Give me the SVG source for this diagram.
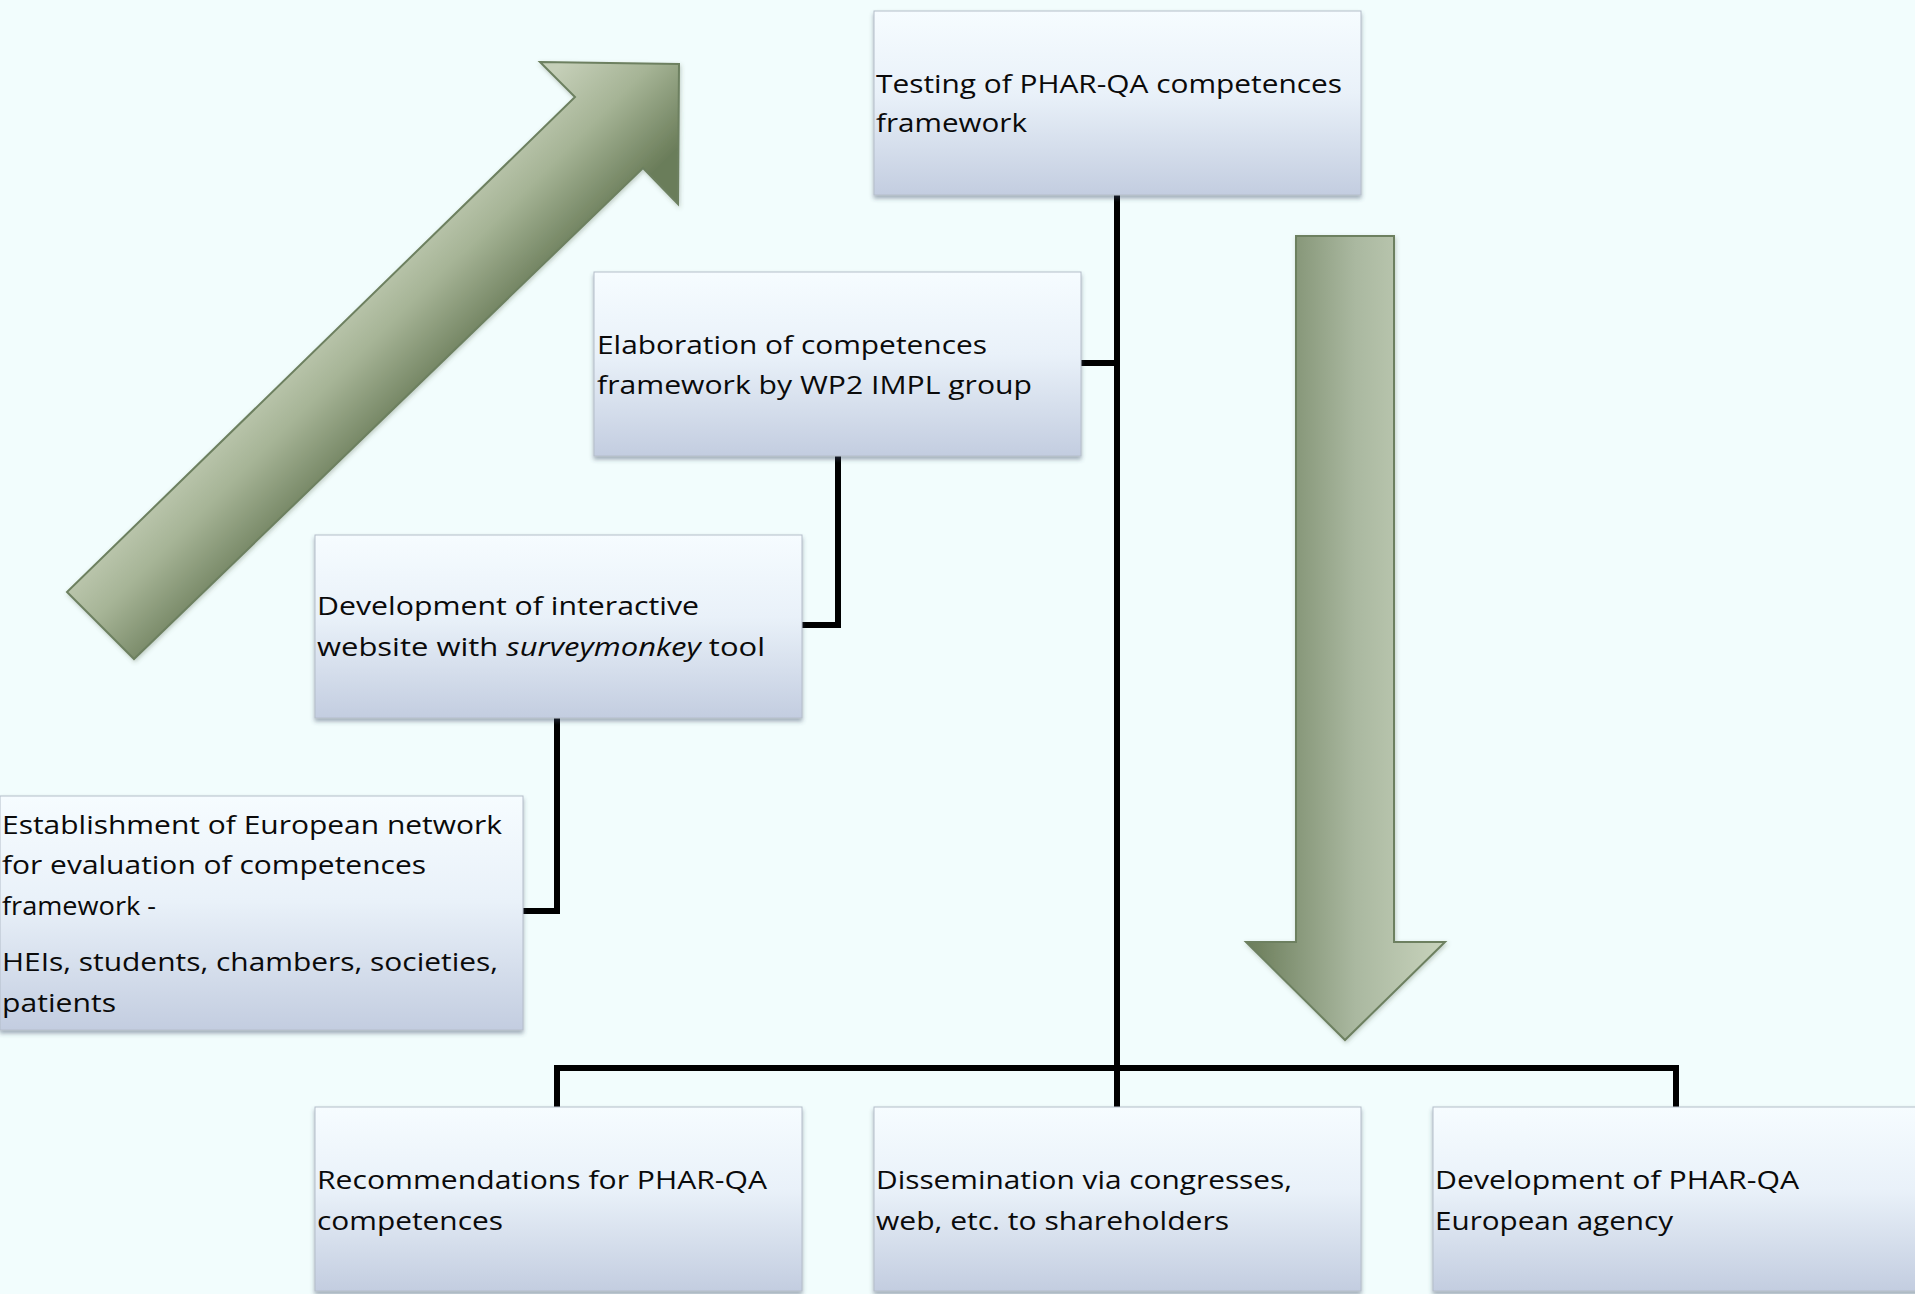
<svg xmlns="http://www.w3.org/2000/svg" width="1915" height="1294" viewBox="0 0 1915 1294">
  <defs>
    <linearGradient id="boxFill" x1="0" y1="0" x2="0" y2="1">
      <stop offset="0" stop-color="#f6fcff"/>
      <stop offset="0.45" stop-color="#e9f1f9"/>
      <stop offset="1" stop-color="#c3cde0"/>
    </linearGradient>
    <linearGradient id="downFill" x1="0" y1="0" x2="1" y2="0">
      <stop offset="0" stop-color="#6a7c59"/>
      <stop offset="0.55" stop-color="#aab8a0"/>
      <stop offset="1" stop-color="#c8d3bc"/>
    </linearGradient>
    <linearGradient id="diagFill" gradientUnits="userSpaceOnUse" x1="300" y1="325" x2="400" y2="425">
      <stop offset="0" stop-color="#c5cfb8"/>
      <stop offset="0.45" stop-color="#a6b496"/>
      <stop offset="1" stop-color="#6b7d5a"/>
    </linearGradient>
    <filter id="shadow" x="-5%" y="-5%" width="110%" height="115%">
      <feDropShadow dx="0" dy="3" stdDeviation="2" flood-color="#3c4a66" flood-opacity="0.45"/>
    </filter>
    <filter id="ashadow" x="-10%" y="-10%" width="120%" height="120%">
      <feDropShadow dx="1" dy="2" stdDeviation="2" flood-color="#4a5a40" flood-opacity="0.3"/>
    </filter>
  </defs>
  <style>
    .box { fill: url(#boxFill); stroke: #b4bdca; stroke-width: 1; filter: url(#shadow); }
    .lbl { font-family: "Open Sans", "Liberation Sans", sans-serif; font-size: 26px; fill: #0a0a0a; }
    .conn { fill: none; stroke: #000000; stroke-width: 6; stroke-linejoin: miter; stroke-linecap: butt; }
    .arrow { stroke: #6d8060; stroke-width: 2; filter: url(#ashadow); }
  </style>

  <rect x="0" y="0" width="1915" height="1294" fill="#f2fdfd"/>

  <g id="arrows">
    <polygon id="arrow-up" class="arrow" fill="url(#diagFill)" points="540,62 679,64 678,204 643,168 134,659 67,592 575,97"/>
    <polygon id="arrow-down" class="arrow" fill="url(#downFill)" points="1296,236 1394,236 1394,942 1445,942 1345,1040 1246,942 1296,942"/>
  </g>

  <g id="connectors">
    <path class="conn" d="M1117,195 V1107"/>
    <path class="conn" d="M1081,363 H1117"/>
    <path class="conn" d="M838,456 V625 H801"/>
    <path class="conn" d="M557,718 V911 H523"/>
    <path class="conn" d="M557,1107 V1068 H1676 V1107"/>
  </g>

  <g id="node-testing">
    <rect class="box" x="874" y="11" width="487" height="184"/>
    <text class="lbl" x="876" y="93" textLength="466" lengthAdjust="spacingAndGlyphs">Testing of PHAR-QA competences</text>
    <text class="lbl" x="876" y="132" textLength="151" lengthAdjust="spacingAndGlyphs">framework</text>
  </g>

  <g id="node-elaboration">
    <rect class="box" x="594" y="272" width="487" height="184"/>
    <text class="lbl" x="597" y="354" textLength="390" lengthAdjust="spacingAndGlyphs">Elaboration of competences</text>
    <text class="lbl" x="597" y="394" textLength="435" lengthAdjust="spacingAndGlyphs">framework by WP2 IMPL group</text>
  </g>

  <g id="node-website">
    <rect class="box" x="315" y="535" width="487" height="183"/>
    <text class="lbl" x="317" y="615" textLength="382" lengthAdjust="spacingAndGlyphs">Development of interactive</text>
    <text class="lbl" x="317" y="656" textLength="448" lengthAdjust="spacingAndGlyphs">website with <tspan font-style="italic">surveymonkey</tspan> tool</text>
  </g>

  <g id="node-network">
    <rect class="box" x="0" y="796" width="523" height="234"/>
    <text class="lbl" x="2" y="834" textLength="500" lengthAdjust="spacingAndGlyphs">Establishment of European network</text>
    <text class="lbl" x="2" y="874" textLength="424" lengthAdjust="spacingAndGlyphs">for evaluation of competences</text>
    <text class="lbl" x="2" y="915" textLength="154" lengthAdjust="spacingAndGlyphs">framework -</text>
    <text class="lbl" x="2" y="971" textLength="496" lengthAdjust="spacingAndGlyphs">HEIs, students, chambers, societies,</text>
    <text class="lbl" x="2" y="1012" textLength="114" lengthAdjust="spacingAndGlyphs">patients</text>
  </g>

  <g id="node-recommendations">
    <rect class="box" x="315" y="1107" width="487" height="184"/>
    <text class="lbl" x="317" y="1189" textLength="450" lengthAdjust="spacingAndGlyphs">Recommendations for PHAR-QA</text>
    <text class="lbl" x="317" y="1230" textLength="186" lengthAdjust="spacingAndGlyphs">competences</text>
  </g>

  <g id="node-dissemination">
    <rect class="box" x="874" y="1107" width="487" height="184"/>
    <text class="lbl" x="876" y="1189" textLength="416" lengthAdjust="spacingAndGlyphs">Dissemination via congresses,</text>
    <text class="lbl" x="876" y="1230" textLength="353" lengthAdjust="spacingAndGlyphs">web, etc. to shareholders</text>
  </g>

  <g id="node-agency">
    <rect class="box" x="1433" y="1107" width="495" height="184"/>
    <text class="lbl" x="1435" y="1189" textLength="364" lengthAdjust="spacingAndGlyphs">Development of PHAR-QA</text>
    <text class="lbl" x="1435" y="1230" textLength="238" lengthAdjust="spacingAndGlyphs">European agency</text>
  </g>
</svg>
